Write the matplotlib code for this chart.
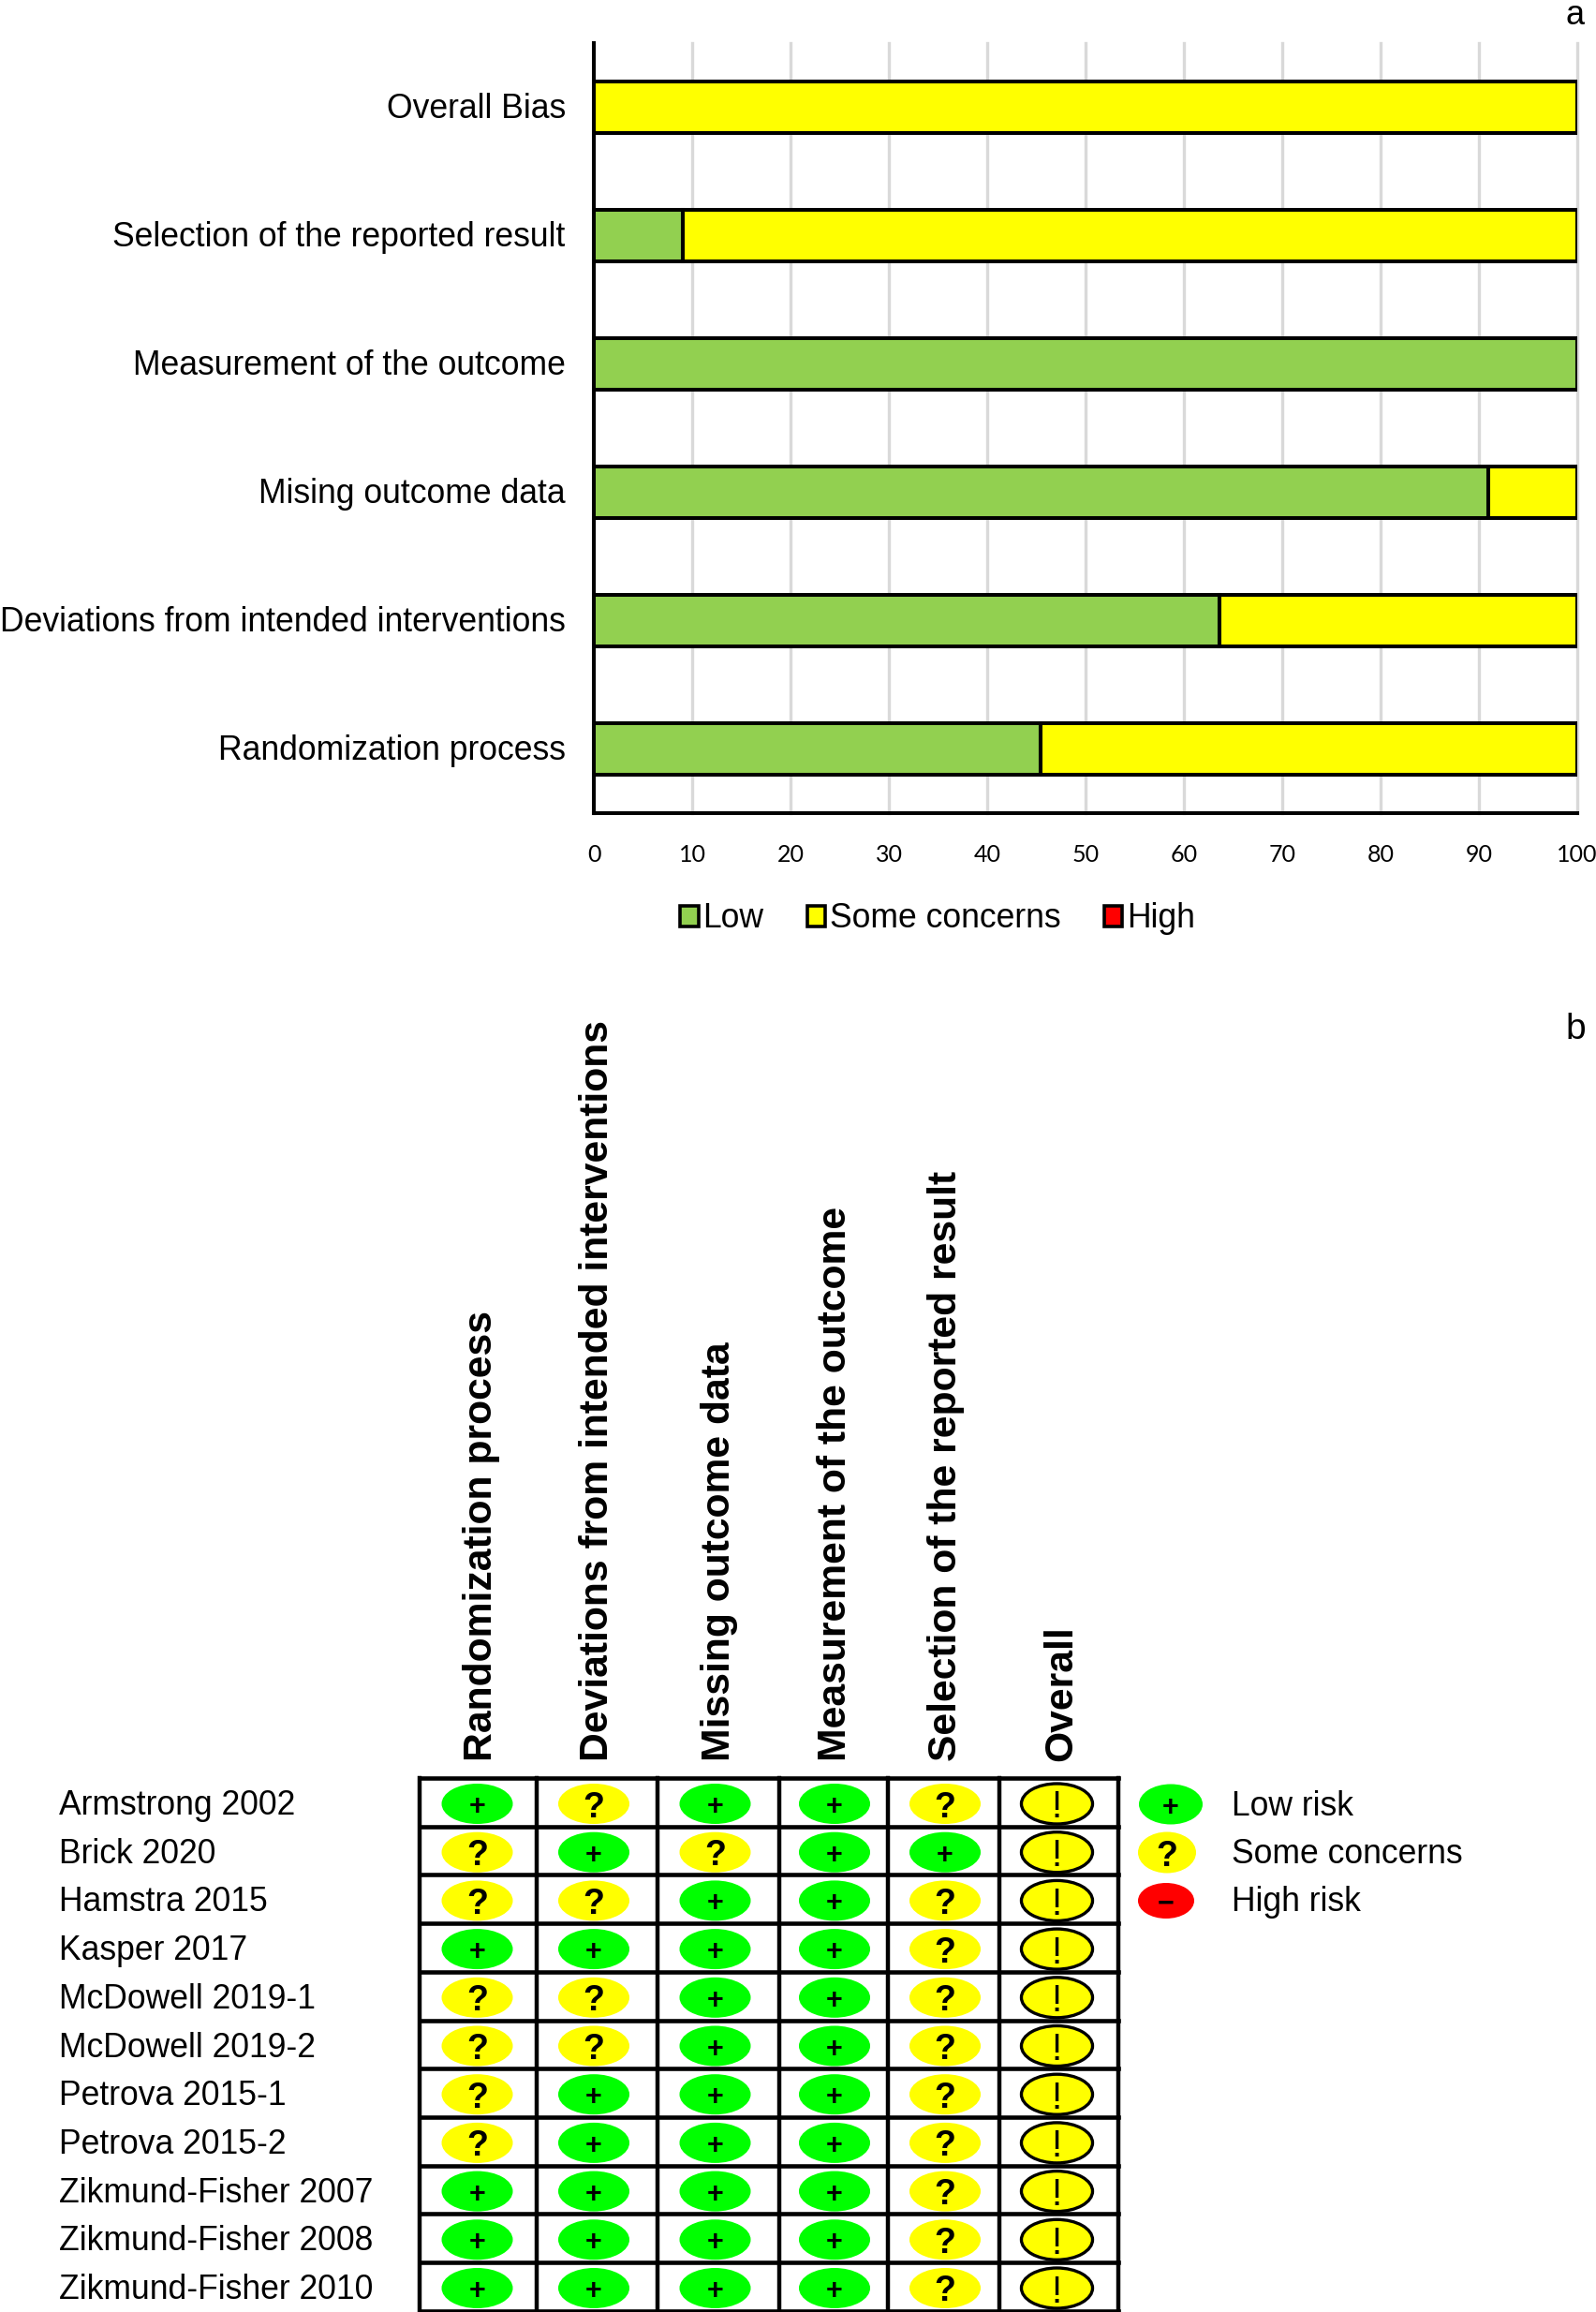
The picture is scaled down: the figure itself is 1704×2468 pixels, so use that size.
import matplotlib
matplotlib.use("Agg")
import matplotlib.pyplot as plt
from matplotlib.patches import Ellipse, Patch
from matplotlib.transforms import ScaledTranslation

# ---------- data ----------
domains_a = ["Randomization process", "Deviations from intended interventions",
             "Mising outcome data", "Measurement of the outcome",
             "Selection of the reported result", "Overall Bias"]
low_pct = [45.45, 63.64, 90.91, 100, 9.09, 0]
some_pct = [54.55, 36.36, 9.09, 0, 90.91, 100]
high_pct = [0, 0, 0, 0, 0, 0]
x_ticks = [0, 10, 20, 30, 40, 50, 60, 70, 80, 90, 100]

domains_b = ["Randomization process", "Deviations from intended interventions",
             "Missing outcome data", "Measurement of the outcome",
             "Selection of the reported result", "Overall"]
studies = ["Armstrong 2002", "Brick 2020", "Hamstra 2015", "Kasper 2017",
           "McDowell 2019-1", "McDowell 2019-2", "Petrova 2015-1", "Petrova 2015-2",
           "Zikmund-Fisher 2007", "Zikmund-Fisher 2008", "Zikmund-Fisher 2010"]
ratings = ["+?++?!", "?+?++!", "??++?!", "++++?!", "??++?!", "??++?!",
           "?+++?!", "?+++?!", "++++?!", "++++?!", "++++?!"]
legend_b = ["Low risk", "Some concerns", "High risk"]

# ---------- layout ----------
W, H = 1704, 2468
SANS = "Liberation Sans"
fig = plt.figure(figsize=(W / 100, H / 100), dpi=100, facecolor="white")

# ---------- panel a ----------
L, R, T, B = 634, 1684, 46, 868
ax = fig.add_axes([L / W, 1 - B / H, (R - L) / W, (B - T) / H])
ys = list(range(len(domains_a)))
kw = dict(height=0.4, edgecolor="black", linewidth=2.9, zorder=3)
ax.barh(ys, low_pct, color="#92D050", **kw)
ax.barh(ys, some_pct, left=low_pct, color="#FFFF00", **kw)
ax.barh(ys, high_pct, left=[a + b for a, b in zip(low_pct, some_pct)], color="#FF0000", **kw)
ax.set_xlim(0, 100)
ax.set_ylim(-0.5, 5.5)
ax.set_xticks(x_ticks)
ax.set_yticks(ys, domains_a)
ax.tick_params(axis="both", length=0)
ax.tick_params(axis="y", labelsize=25.6, pad=21)
ax.tick_params(axis="x", labelsize=18, pad=23.5)
lift = ScaledTranslation(-1 / 100, 2 / 100, fig.dpi_scale_trans)
for t in ax.get_yticklabels():
    t.set_fontfamily(SANS)
    t.set_transform(t.get_transform() + lift)
for t in ax.get_xticklabels():
    t.set_fontfamily("Lato")
ax.grid(axis="x", color="#D9D9D9", linewidth=2.4, zorder=0)
for g in ax.get_xgridlines():
    g.set_clip_on(False)
ax.set_axisbelow(True)
for s in ("top", "right"):
    ax.spines[s].set_visible(False)
for s in ("left", "bottom"):
    ax.spines[s].set_linewidth(2.9)
ax.legend(handles=[Patch(facecolor=c, edgecolor="black", linewidth=2.6, label=l)
                   for c, l in zip(["#92D050", "#FFFF00", "#FF0000"], ["Low", "Some concerns", "High"])],
          loc="center", bbox_to_anchor=((1001 - L) / (R - L), -(981 - B) / (B - T)),
          ncol=3, frameon=False, prop={"family": SANS, "size": 25.6},
          handlelength=0.55, handleheight=0.58, handletextpad=0.13, columnspacing=1.3,
          borderpad=0, borderaxespad=0)

# ---------- panel b ----------
bx = fig.add_axes([0, 0, 1, 1], facecolor="none")
bx.set_xlim(0, W)
bx.set_ylim(H, 0)
bx.axis("off")

col_edges = [447.5, 573, 701.5, 832, 948, 1067, 1194]
col_centers = [509.5, 634, 763.5, 891, 1009, 1128.5]
header_x = [514, 638, 768, 892, 1010, 1133]
row_top = 1898
row_h = 51.7
center_off = 27.5
EW, EH = 76, 43
fills = {"+": "#00FF00", "?": "#FFFF00", "!": "#FFFF00", "-": "#FF0000"}
glyph = {"+": "+", "?": "?", "!": "!", "-": "\u2212"}
gsize = {"+": 22, "?": 27, "!": 29, "-": 22}
gweight = {"+": "bold", "?": "bold", "!": "normal", "-": "bold"}
gfam = {"+": [SANS], "?": ["Liberation Sans Narrow", SANS], "!": [SANS], "-": [SANS]}


def badge(x, y, code, ringed=False, ew=EW, eh=EH):
    bx.add_patch(Ellipse((x, y), ew, eh, facecolor=fills[code],
                         edgecolor="black" if ringed else "none",
                         linewidth=2.4 if ringed else 0, zorder=3))
    bx.text(x, y, glyph[code], ha="center", va="center_baseline", fontsize=gsize[code],
            fontweight=gweight[code], family=gfam[code], color="black", zorder=4)


n = len(studies)
bottom = row_top + n * row_h
for xe in col_edges:
    bx.plot([xe, xe], [row_top, bottom], color="black", lw=3.2, zorder=2, clip_on=False,
            solid_capstyle="projecting")
for i in range(n + 1):
    ye = row_top + i * row_h
    bx.plot([col_edges[0], col_edges[-1]], [ye, ye], color="black", lw=3.3, zorder=2, clip_on=False,
            solid_capstyle="projecting")

for i, (s, r) in enumerate(zip(studies, ratings)):
    y = row_top + i * row_h + center_off
    bx.text(63, y + 2, s, ha="left", va="center", fontsize=25.6, family=SANS, color="black")
    for j, code in enumerate(r):
        badge(col_centers[j], y, code, ringed=j == len(r) - 1)

for x, d in zip(header_x, domains_b):
    bx.text(x, 1880, d, rotation=90, ha="center", va="bottom", fontsize=30.7,
            fontweight="bold", family=SANS, color="black")

leg_geom = [(1250, 68, 43), (1246, 62, 44), (1245, 60, 38)]
for i, (lab, code, (xc, ew, eh)) in enumerate(zip(legend_b, "+?-", leg_geom)):
    y = 1926 + i * 51.5
    badge(xc, y, code, ew=ew, eh=eh)
    bx.text(1315, y + 2, lab, ha="left", va="center", fontsize=25.6, family=SANS, color="black")

bx.text(1682, 26, "a", ha="center", va="baseline", fontsize=26, family=SANS)
bx.text(1682, 1109, "b", ha="center", va="baseline", fontsize=28, family=SANS)

fig.savefig("out.png", dpi=100)
